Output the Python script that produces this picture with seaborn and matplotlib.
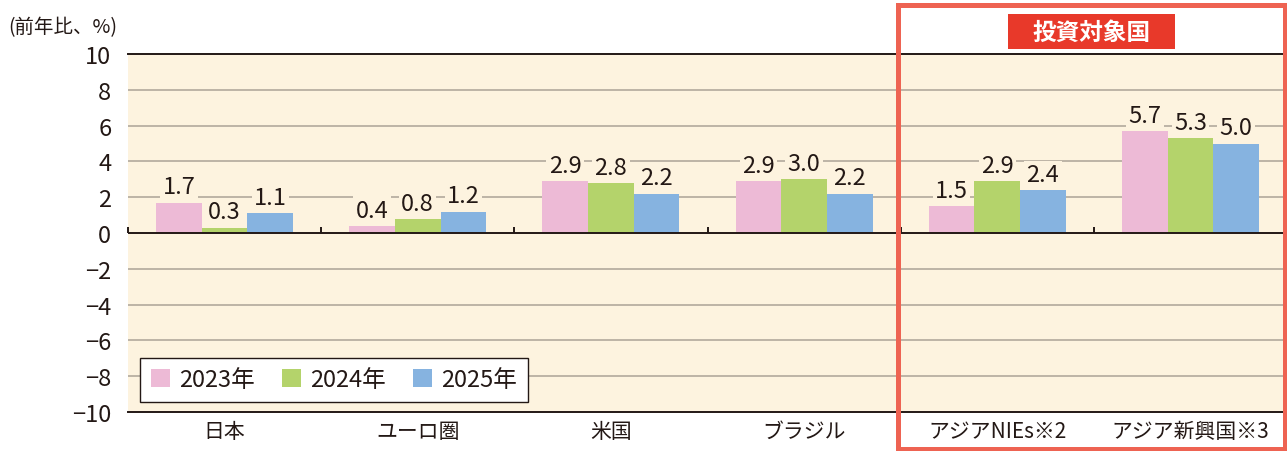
import numpy as np
import pandas as pd
import seaborn as sns
import matplotlib.pyplot as plt
from matplotlib.patches import Rectangle

# --- data ---
regions = ["日本", "ユーロ圏", "米国", "ブラジル", "アジアNIEs※2", "アジア新興国※3"]
years = ["2023年", "2024年", "2025年"]
v2023 = [1.7, 0.4, 2.9, 2.9, 1.5, 5.7]
v2024 = [0.3, 0.8, 2.8, 3.0, 2.9, 5.3]
v2025 = [1.1, 1.2, 2.2, 2.2, 2.4, 5.0]
yticks = [10, 8, 6, 4, 2, 0, -2, -4, -6, -8, -10]

df = pd.DataFrame({
    "region": regions * 3,
    "year": [years[0]] * 6 + [years[1]] * 6 + [years[2]] * 6,
    "value": v2023 + v2024 + v2025,
})

# --- style ---
sns.set_style("white")
plt.rcParams["font.family"] = ["Noto Sans CJK JP", "DejaVu Sans"]
TXT = "#231815"
BG = "#FDF3DF"
GRID = "#BDB4A6"
colors = ["#EDBAD6", "#B4D36B", "#86B3E0"]

fig = plt.figure(figsize=(12.87, 4.52), dpi=100)
ax = fig.add_axes([128 / 1287, 1 - 413 / 452, 1 - 128 / 1287, (413 - 55) / 452])
ax.set_facecolor(BG)

sns.barplot(data=df, x="region", y="value", hue="year", palette=colors,
            width=0.71, saturation=1, ax=ax, zorder=3, linewidth=0)

ax.set_ylim(-10, 10)
ax.set_xlim(-0.5, len(regions) - 0.5)
ax.set_yticks(yticks)
ax.set_yticklabels([str(t).replace("-", "−") for t in yticks])
for t in yticks:
    if t not in (10, -10, 0):
        ax.axhline(t, color=GRID, lw=1.4, zorder=1)
ax.axhline(0, color=TXT, lw=1.4, zorder=4)
# small ticks at group boundaries
ax.vlines(np.arange(-0.5, len(regions)), 0, 0.35, color=TXT, lw=1.4, zorder=4,
          clip_on=False)

for s in ["left", "right"]:
    ax.spines[s].set_visible(False)
for s in ["top", "bottom"]:
    ax.spines[s].set_color(TXT)
    ax.spines[s].set_linewidth(1.4)

ax.tick_params(axis="y", length=0, labelsize=17, colors=TXT, pad=12)
ax.tick_params(axis="x", length=0, labelsize=15, colors=TXT, pad=6)
ax.set_xlabel("")
ax.set_ylabel("")

# value labels
for cont in ax.containers:
    for bar in cont:
        h = bar.get_height()
        ax.annotate(f"{h:.1f}", (bar.get_x() + bar.get_width() / 2, h),
                    xytext=(0, 3), textcoords="offset points",
                    ha="center", va="bottom", fontsize=17, color=TXT, zorder=5,
                    bbox=dict(boxstyle="square,pad=0.1", fc=BG, ec="none"))

leg = ax.legend(loc="lower left", bbox_to_anchor=(12 / 1159, 10 / 358), ncol=3,
                fontsize=17, frameon=True, fancybox=False, edgecolor=TXT,
                framealpha=1, handlelength=0.8, handleheight=0.8,
                handletextpad=0.4, columnspacing=1.15, borderpad=0.45,
                borderaxespad=0)
leg.get_frame().set_linewidth(1.0)
for t in leg.get_texts():
    t.set_color(TXT)

fig.text(8 / 1287, 1 - 28 / 452, "(前年比、%)", fontsize=14, color=TXT,
         ha="left", va="center")

# investment target highlight
fig.patches.append(Rectangle((898.5 / 1287, 1 - 449.5 / 452), 386 / 1287, 443.5 / 452,
                             transform=fig.transFigure, fill=False,
                             ec="#EE6352", lw=3.6, zorder=10))
fig.patches.append(Rectangle((1008 / 1287, 1 - 50 / 452), 167 / 1287, 35 / 452,
                             transform=fig.transFigure, fc="#E8392A",
                             ec="none", zorder=10))
fig.text(1091.5 / 1287, 1 - 32.5 / 452, "投資対象国", fontsize=17,
         fontweight="bold", color="white", ha="center", va="center", zorder=11)

fig.savefig("out.png", dpi=100, facecolor="white")
